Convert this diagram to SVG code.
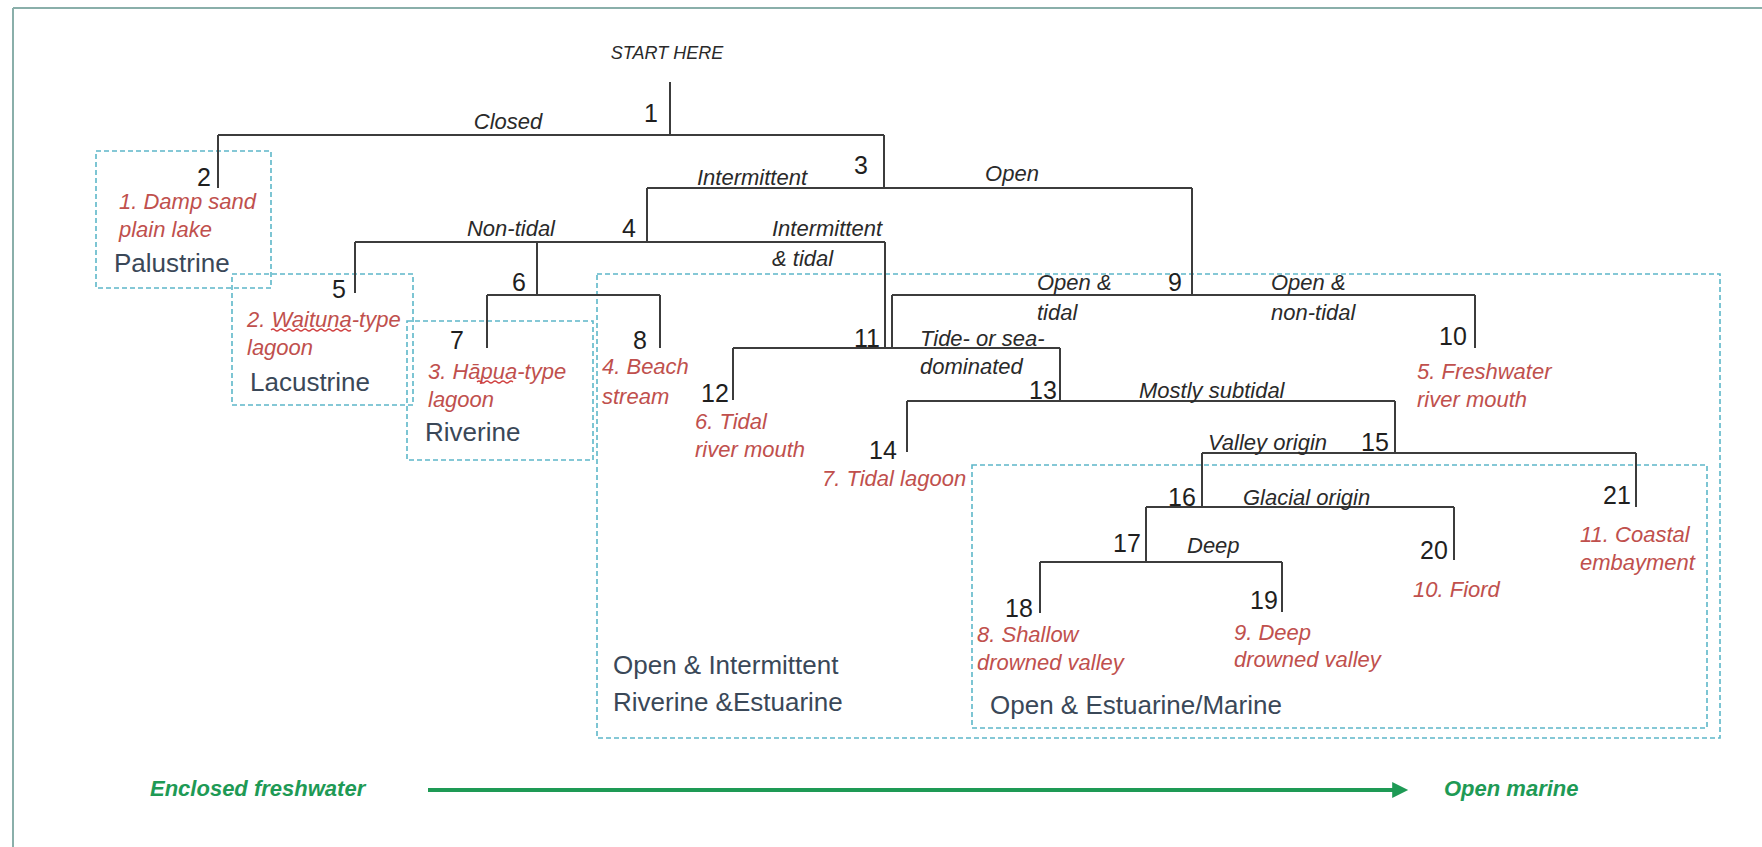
<svg xmlns="http://www.w3.org/2000/svg" width="1762" height="847" viewBox="0 0 1762 847">
<style>
  text { font-family: "Liberation Sans", Arial, sans-serif; }
  .num { font-size: 25px; fill: #1f1f1f; text-anchor: middle; }
  .lbl { font-size: 22px; font-style: italic; fill: #2a2a2a; }
  .mid { text-anchor: middle; }
  .red { font-size: 22px; font-style: italic; fill: #C0504D; }
  .cat { font-size: 26px; fill: #3A4858; }
  .grn { font-size: 22px; font-style: italic; font-weight: bold; fill: #1E9A55; }
  .tree { fill: none; stroke: #3c3c3c; stroke-width: 2; }
  .box { fill: none; stroke: #5DB7C9; stroke-width: 1.6; stroke-dasharray: 5 3; }
  .squig { fill: none; stroke: #D04040; stroke-width: 1.2; }
</style>
<defs>
  <marker id="ah" markerWidth="5" markerHeight="4" refX="0.2" refY="2" orient="auto" markerUnits="strokeWidth">
    <path d="M0,0 L4,2 L0,4 Z" fill="#1E9A55"/>
  </marker>
</defs>
<rect width="1762" height="847" fill="#ffffff"/>
<g id="frame" fill="none" stroke="#8AAFAA" stroke-width="2">
  <path d="M13 8 H1762 M13 8 V847"/>
</g>

<g id="regions">
  <g id="region-palustrine">
    <rect class="box" x="96" y="151" width="175" height="137"/>
    <text class="cat" x="114" y="272">Palustrine</text>
  </g>
  <g id="region-lacustrine">
    <rect class="box" x="232" y="274" width="181" height="131"/>
    <text class="cat" x="250" y="391">Lacustrine</text>
  </g>
  <g id="region-riverine">
    <rect class="box" x="407" y="321" width="186" height="139"/>
    <text class="cat" x="425" y="441">Riverine</text>
  </g>
  <g id="region-open-intermittent">
    <rect class="box" x="597" y="274" width="1123" height="464"/>
    <text class="cat" x="613" y="674">Open &amp; Intermittent</text>
    <text class="cat" x="613" y="711">Riverine &amp;Estuarine</text>
  </g>
  <g id="region-open-estuarine">
    <rect class="box" x="972" y="465" width="735" height="263"/>
    <text class="cat" x="990" y="714">Open &amp; Estuarine/Marine</text>
  </g>
</g>

<g id="connectors" class="tree">
  <path d="M670 82 V135"/>
  <path d="M218 135 H884"/>
  <path d="M218 135 V188"/>
  <path d="M884 135 V188"/>
  <path d="M647 188 H1192"/>
  <path d="M647 188 V242"/>
  <path d="M355 242 H885"/>
  <path d="M355 242 V293"/>
  <path d="M537 242 V295"/>
  <path d="M487 295 H660"/>
  <path d="M487 295 V348"/>
  <path d="M660 295 V348"/>
  <path d="M885 242 V348"/>
  <path d="M1192 188 V295"/>
  <path d="M892 295 H1475"/>
  <path d="M892 295 V348"/>
  <path d="M1475 295 V348"/>
  <path d="M733 348 H1060"/>
  <path d="M733 348 V400"/>
  <path d="M1060 348 V401"/>
  <path d="M907 401 H1395"/>
  <path d="M907 401 V452"/>
  <path d="M1395 401 V453"/>
  <path d="M1202 453 H1636"/>
  <path d="M1202 453 V507"/>
  <path d="M1636 453 V507"/>
  <path d="M1146 507 H1454"/>
  <path d="M1146 507 V562"/>
  <path d="M1454 507 V560"/>
  <path d="M1040 562 H1282"/>
  <path d="M1040 562 V613"/>
  <path d="M1282 562 V612"/>
</g>

<g id="edge-labels" class="lbl">
  <text class="lbl mid" x="667" y="59" style="font-size:18px">START HERE</text>
  <text class="lbl mid" x="508" y="129">Closed</text>
  <text class="lbl mid" x="752" y="185">Intermittent</text>
  <text class="lbl mid" x="1012" y="181">Open</text>
  <text class="lbl mid" x="511" y="236">Non-tidal</text>
  <text class="lbl" x="772" y="236">Intermittent</text>
  <text class="lbl" x="772" y="266">&amp; tidal</text>
  <text class="lbl" x="1037" y="290">Open &amp;</text>
  <text class="lbl" x="1037" y="320">tidal</text>
  <text class="lbl" x="1271" y="290">Open &amp;</text>
  <text class="lbl" x="1271" y="320">non-tidal</text>
  <text class="lbl" x="920" y="346">Tide- or sea-</text>
  <text class="lbl" x="920" y="374">dominated</text>
  <text class="lbl" x="1139" y="398">Mostly subtidal</text>
  <text class="lbl" x="1208" y="450">Valley origin</text>
  <text class="lbl" x="1243" y="505">Glacial origin</text>
  <text class="lbl" x="1187" y="553">Deep</text>
</g>

<g id="node-1"><text class="num" x="651" y="122">1</text></g>
<g id="node-2"><text class="num" x="204" y="186">2</text>
  <text class="red" x="119" y="209">1. Damp sand</text>
  <text class="red" x="119" y="237">plain lake</text></g>
<g id="node-3"><text class="num" x="861" y="174">3</text></g>
<g id="node-4"><text class="num" x="629" y="237">4</text></g>
<g id="node-5"><text class="num" x="339" y="298">5</text>
  <text class="red" x="247" y="327">2. Waituna-type</text>
  <text class="red" x="247" y="355">lagoon</text>
  <path class="squig" d="M271 330 q2 -2 4 0 t4 0 t4 0 t4 0 t4 0 t4 0 t4 0 t4 0 t4 0 t4 0 t4 0 t4 0 t4 0 t4 0 t4 0 t4 0 t4 0 t4 0 t4 0 t4 0"/></g>
<g id="node-6"><text class="num" x="519" y="291">6</text></g>
<g id="node-7"><text class="num" x="457" y="349">7</text>
  <text class="red" x="428" y="379">3. Hāpua-type</text>
  <text class="red" x="428" y="407">lagoon</text>
  <path class="squig" d="M477 382 q2 -2 4 0 t4 0 t4 0 t4 0 t4 0 t4 0 t4 0 t4 0 t4 0"/></g>
<g id="node-8"><text class="num" x="640" y="349">8</text>
  <text class="red" x="602" y="374">4. Beach</text>
  <text class="red" x="602" y="404">stream</text></g>
<g id="node-9"><text class="num" x="1175" y="291">9</text></g>
<g id="node-10"><text class="num" x="1453" y="345">10</text>
  <text class="red" x="1417" y="379">5. Freshwater</text>
  <text class="red" x="1417" y="407">river mouth</text></g>
<g id="node-11"><text class="num" x="867" y="347">11</text></g>
<g id="node-12"><text class="num" x="715" y="402">12</text>
  <text class="red" x="695" y="429">6. Tidal</text>
  <text class="red" x="695" y="457">river mouth</text></g>
<g id="node-13"><text class="num" x="1043" y="399">13</text></g>
<g id="node-14"><text class="num" x="883" y="459">14</text>
  <text class="red" x="822" y="486">7. Tidal lagoon</text></g>
<g id="node-15"><text class="num" x="1375" y="451">15</text></g>
<g id="node-16"><text class="num" x="1182" y="506">16</text></g>
<g id="node-17"><text class="num" x="1127" y="552">17</text></g>
<g id="node-18"><text class="num" x="1019" y="617">18</text>
  <text class="red" x="977" y="642">8. Shallow</text>
  <text class="red" x="977" y="670">drowned valley</text></g>
<g id="node-19"><text class="num" x="1264" y="609">19</text>
  <text class="red" x="1234" y="640">9. Deep</text>
  <text class="red" x="1234" y="667">drowned valley</text></g>
<g id="node-20"><text class="num" x="1434" y="559">20</text>
  <text class="red" x="1413" y="597">10. Fiord</text></g>
<g id="node-21"><text class="num" x="1617" y="504">21</text>
  <text class="red" x="1580" y="542">11. Coastal</text>
  <text class="red" x="1580" y="570">embayment</text></g>

<g id="gradient-axis">
  <text class="grn" x="150" y="796">Enclosed freshwater</text>
  <line x1="428" y1="790" x2="1393" y2="790" stroke="#1E9A55" stroke-width="4" marker-end="url(#ah)"/>
  <text class="grn" x="1444" y="796">Open marine</text>
</g>
</svg>
